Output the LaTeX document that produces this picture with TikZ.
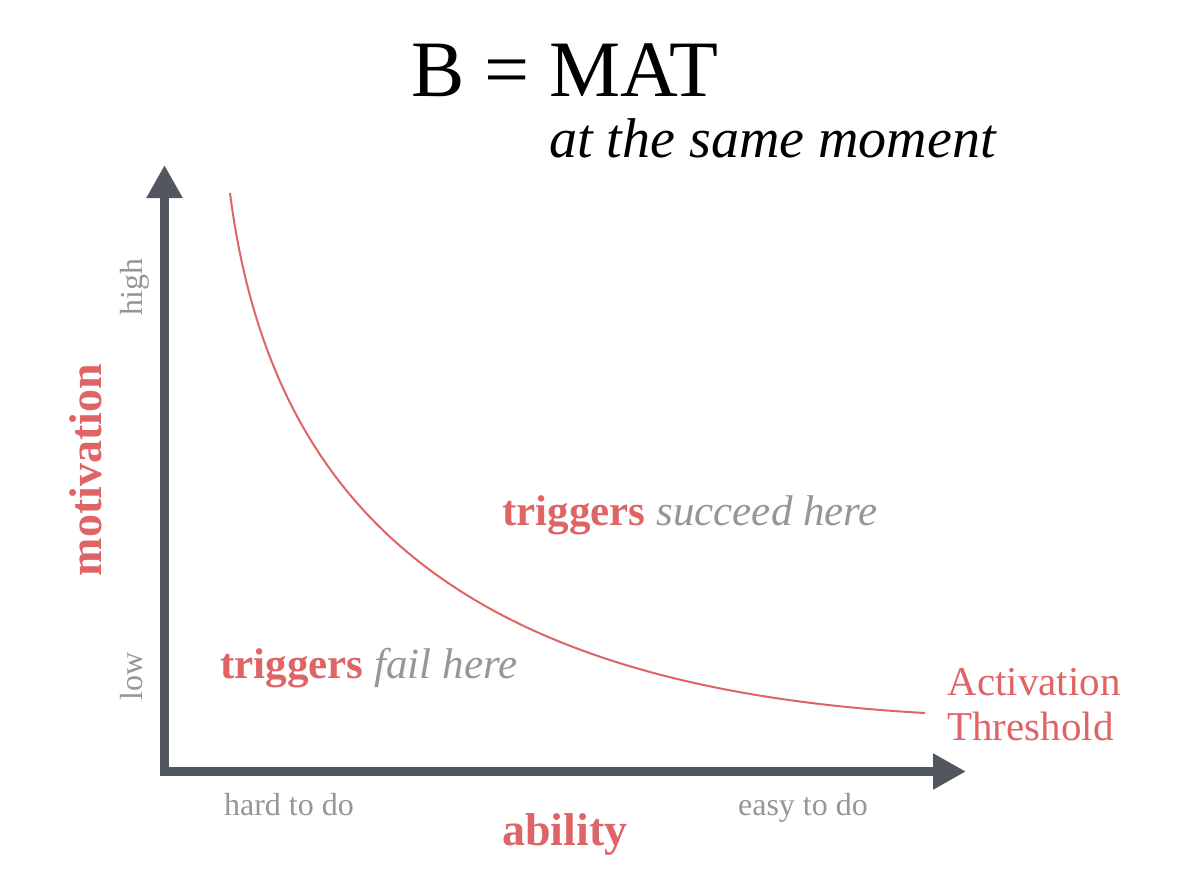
\documentclass[tikz,border=0pt]{standalone}
\usepackage{fontspec}
\setmainfont{Liberation Serif}
\usetikzlibrary{arrows.meta}
\definecolor{axisgrey}{RGB}{82,86,94}
\definecolor{threshred}{RGB}{222,100,102}
\definecolor{labelgrey}{RGB}{150,150,150}

\begin{document}
\begin{tikzpicture}[x=0.5pt, y=-0.5pt, every node/.style={inner sep=0pt},
  >={Triangle[length=16.5pt,width=17pt]},
  axisline/.style={axisgrey, line width=4.5pt, line join=miter, <->},
  curveline/.style={threshred, line width=1pt},
  ticklabel/.style={labelgrey, anchor=base, font=\fontsize{16}{18}\selectfont},
  axislabel/.style={threshred, anchor=base, font=\fontsize{23}{26}\selectfont\bfseries},
  zonelabel/.style={anchor=base west, font=\fontsize{21.5}{24}\selectfont}]
  \useasboundingbox (0,0) rectangle (1200,868);
  % heading
  \node[anchor=base, font=\fontsize{40}{44}\selectfont] (title) at (565,96) {B = MAT};
  \node[anchor=base west, font=\fontsize{28}{32}\selectfont\itshape] (subtitle) at (549,157) {at the same moment};
  % axes, one path with both tips
  \coordinate (ytip) at (164.5,165);
  \coordinate (xtip) at (966,771.5);
  \draw[axisline] (ytip) |- (xtip);
  % activation threshold
  \coordinate (cstart) at (230,193);
  \coordinate (cend) at (925,713);
  \draw[curveline] (cstart) .. controls (270,503) and (455,687) .. (cend);
  % axis labels
  \node[axislabel, rotate=90] (motiv) at (101,470) {motivation};
  \node[axislabel] (abil) at (565,845) {ability};
  \node[ticklabel, rotate=90] (high) at (142,287) {high};
  \node[ticklabel, rotate=90] (low) at (142,676) {low};
  \node[ticklabel] (hard) at (289,815) {hard to do};
  \node[ticklabel] (easy) at (803,815) {easy to do};
  % regions either side of the curve
  \node[zonelabel] (succeed) at (502,525) {\textcolor{threshred}{\bfseries triggers} \textcolor{labelgrey}{\itshape succeed here}};
  \node[zonelabel] (fail) at (220,678) {\textcolor{threshred}{\bfseries triggers} \textcolor{labelgrey}{\itshape fail here}};
  \node[anchor=base west, threshred, font=\fontsize{20.5}{22}\selectfont] (act) at (947,695) {Activation};
  \node[anchor=base west, threshred, font=\fontsize{20.5}{22}\selectfont] (thr) at (947,740) {Threshold};
\end{tikzpicture}
\end{document}
